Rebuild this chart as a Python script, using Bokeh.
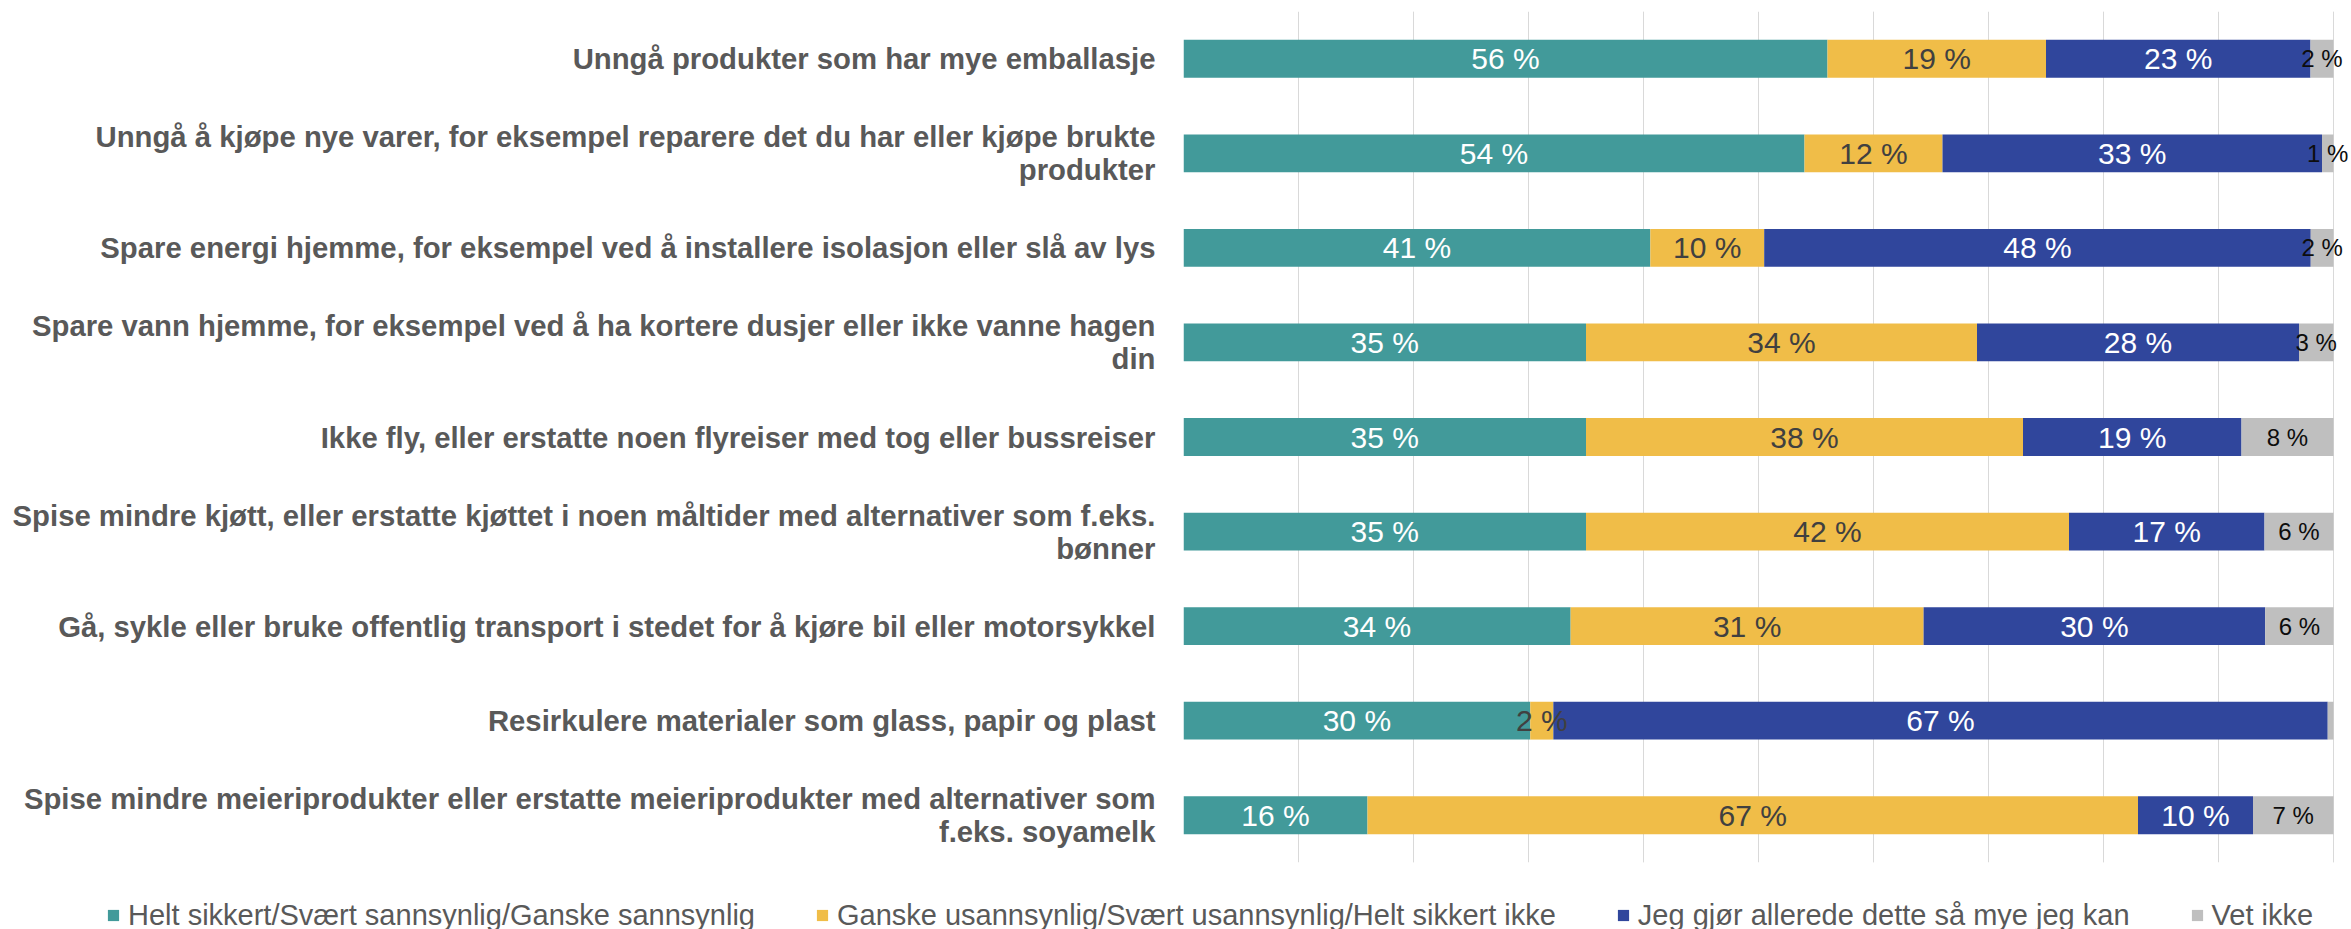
from bokeh.plotting import figure
from bokeh.layouts import column
from bokeh.models import (ColumnDataSource, FactorRange, Range1d, Grid, FixedTicker,
                          LabelSet, Legend, LegendItem)
from bokeh.core.properties import value
from bokeh.embed import file_html
from bokeh.resources import INLINE

categories = [
    "Unngå produkter som har mye emballasje",
    "Unngå å kjøpe nye varer, for eksempel reparere det du har eller kjøpe brukte\nprodukter",
    "Spare energi hjemme, for eksempel ved å installere isolasjon eller slå av lys",
    "Spare vann hjemme, for eksempel ved å ha kortere dusjer eller ikke vanne hagen\ndin",
    "Ikke fly, eller erstatte noen flyreiser med tog eller bussreiser",
    "Spise mindre kjøtt, eller erstatte kjøttet i noen måltider med alternativer som f.eks.\nbønner",
    "Gå, sykle eller bruke offentlig transport i stedet for å kjøre bil eller motorsykkel",
    "Resirkulere materialer som glass, papir og plast",
    "Spise mindre meieriprodukter eller erstatte meieriprodukter med alternativer som\nf.eks. soyamelk",
]
helt_sikkert = [56, 54, 41, 35, 35, 35, 34, 30, 16]
usannsynlig = [19, 12, 10, 34, 38, 42, 31, 2, 67]
gjor_allerede = [23, 33, 48, 28, 19, 17, 30, 67, 10]
vet_ikke = [2, 1, 2, 3, 8, 6, 6, 0.5, 7]

series_names = [
    "Helt sikkert/Svært sannsynlig/Ganske sannsynlig",
    "Ganske usannsynlig/Svært usannsynlig/Helt sikkert ikke",
    "Jeg gjør allerede dette så mye jeg kan",
    "Vet ikke",
]
colors = ["#429A9A", "#F0BD48", "#30469C", "#BFBFBF"]
label_colors = ["#FFFFFF", "#404040", "#FFFFFF", "#0D0D0D"]
label_sizes = ["30px", "30px", "30px", "24px"]
grid_ticks = [0, 10, 20, 30, 40, 50, 60, 70, 80, 90, 100]

FONT = "Liberation Sans"

series = [helt_sikkert, usannsynlig, gjor_allerede, vet_ikke]
totals = [sum(v) for v in zip(*series)]
keys = ["s0", "s1", "s2", "s3"]
data = {"cat": categories}
for k, s in zip(keys, series):
    data[k] = [100.0 * v / t for v, t in zip(s, totals)]
source = ColumnDataSource(data)

# layout geometry (pixels)
FIG_W = 2349
LEFT = 1183          # frame left
BAR_RIGHT = 2333     # where 100 % lies
x_end = 100.0 * (FIG_W - LEFT) / (BAR_RIGHT - LEFT)

p = figure(width=FIG_W, height=870,
           y_range=FactorRange(factors=list(reversed(categories)), range_padding=0),
           x_range=Range1d(0, x_end),
           x_axis_location=None,
           output_backend="svg", toolbar_location=None,
           min_border_left=LEFT, min_border_right=0,
           min_border_top=11, min_border_bottom=8,
           outline_line_color=None)
p.frame_align = False

p.ygrid.visible = False
p.add_layout(Grid(dimension=0, ticker=FixedTicker(ticks=grid_ticks),
                  grid_line_color="#D9D9D9", grid_line_width=1))

renderers = p.hbar_stack(keys, y="cat", height=0.4, color=colors,
                         line_width=0, source=source)

# data labels
for i, k in enumerate(keys):
    xs, ys, txt = [], [], []
    for j, c in enumerate(categories):
        start = sum(data[kk][j] for kk in keys[:i])
        val = series[i][j]
        if val >= 1:
            xs.append(start + data[k][j] / 2.0)
            ys.append(c)
            txt.append(f"{val:.0f} %")
    ls = LabelSet(x="x", y="y", text="t",
                  source=ColumnDataSource(dict(x=xs, y=ys, t=txt)),
                  text_align="center", text_baseline="middle",
                  text_font=value(FONT), text_font_size=value(label_sizes[i]),
                  text_color=value(label_colors[i]))
    p.add_layout(ls)

yax = p.yaxis[0]
yax.axis_line_color = None
yax.major_tick_line_color = None
yax.major_tick_out = 0
yax.major_tick_in = 0
yax.minor_tick_line_color = None
yax.major_label_standoff = 28
yax.major_label_text_font = FONT
yax.major_label_text_font_size = "29.3px"
yax.major_label_text_font_style = "bold"
yax.major_label_text_color = "#595959"
yax.major_label_text_line_height = 1.0

# legend figure below the chart
lg = figure(width=FIG_W, height=59, x_range=Range1d(0, 1), y_range=Range1d(0, 1),
            x_axis_location=None, y_axis_location=None,
            output_backend="svg", toolbar_location=None,
            min_border=0, outline_line_color=None)
lg.frame_align = False
lg.xgrid.visible = False
lg.ygrid.visible = False
dummies = [lg.hbar(y=[-10], right=[1], height=1, color=c, line_width=0) for c in colors]

legend = Legend(items=[LegendItem(label=n, renderers=[r]) for n, r in zip(series_names, dummies)],
                orientation="horizontal", location=(106, -3),
                padding=0, margin=0, spacing=60,
                glyph_width=14, glyph_height=14, label_standoff=8, label_height=34,
                label_text_font=FONT, label_text_font_size="29px",
                label_text_color="#595959",
                border_line_color=None, background_fill_alpha=0)
lg.add_layout(legend, "center")

layout = column(p, lg, spacing=0)
open("out.html", "w").write(file_html(layout, INLINE))
